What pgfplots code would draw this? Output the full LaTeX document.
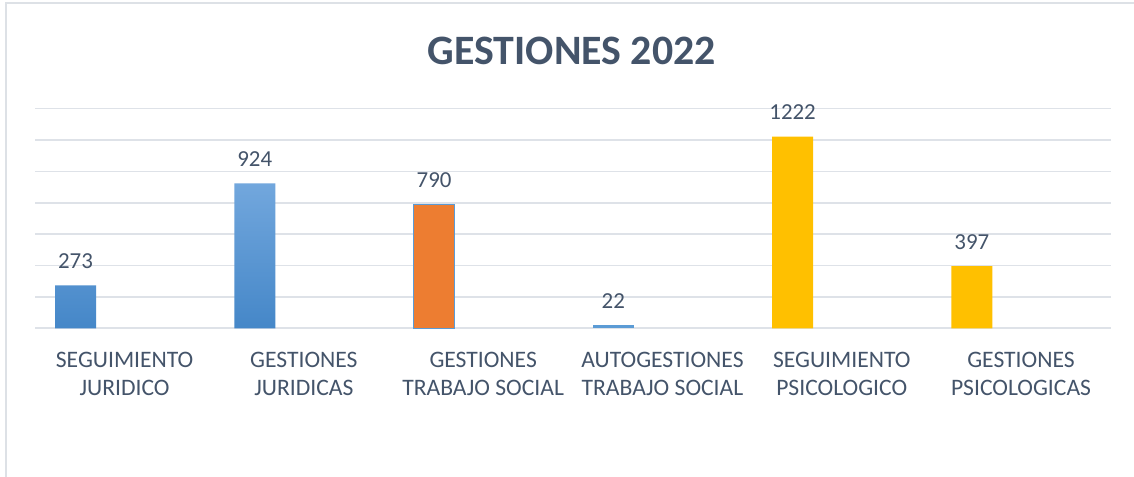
\documentclass[border=0pt]{standalone}
\usepackage{pgfplots}
\pgfplotsset{compat=1.18}
\usepackage{fontspec}
\setmainfont{Carlito}
\definecolor{txt}{HTML}{44546A}
\definecolor{gridc}{HTML}{DEE2E8}
\definecolor{frame}{HTML}{DDE1E6}
\definecolor{bluetop}{HTML}{72A7DD}
\definecolor{bluebot}{HTML}{4587C8}
\definecolor{orangeb}{HTML}{ED7D31}
\definecolor{blueb}{HTML}{5B9BD5}
\definecolor{goldb}{HTML}{FFC000}
\begin{document}
\begin{tikzpicture}
\useasboundingbox (0,0) rectangle (1134bp,477bp);
\fill[white] (0,0) rectangle (1134bp,477bp);
\draw[frame, line width=2bp] (6bp,0) -- (6bp,474bp) -- (1134bp,474bp);
\node[anchor=base, text=txt, font=\fontsize{42}{50}\selectfont\bfseries] at (571.7bp,412bp) {GESTIONES 2022};
\begin{axis}[
  at={(35bp,148.7bp)}, anchor=south west,
  scale only axis, width=1075.7bp, height=219.6bp,
  xmin=-0.5, xmax=5.5, ymin=0, ymax=1400,
  ytick={0,200,...,1400}, yticklabels={},
  xtick={0,1,2,3,4,5},
  xticklabels={SEGUIMIENTO\\JURIDICO, GESTIONES\\JURIDICAS, GESTIONES\\TRABAJO SOCIAL, AUTOGESTIONES\\TRABAJO SOCIAL, SEGUIMIENTO\\PSICOLOGICO, GESTIONES\\PSICOLOGICAS},
  xticklabel style={align=center, anchor=north, inner sep=0pt, yshift=-23.4bp, text=txt, font=\fontsize{23.7}{28}\selectfont},
  ymajorgrids, grid style={gridc, line width=1.6bp},
  axis line style={draw=none}, major tick length=0pt,
  ybar, bar width=0.2287, bar shift=-0.274,
  nodes near coords,
  /pgf/number format/assume math mode=true,
  /pgf/number format/1000 sep={},
  every node near coord/.append style={anchor=base, inner sep=0pt, yshift=16.7bp, text=txt, font=\fontsize{23}{28}\selectfont},
  clip=false,
]
\addplot[draw=none, top color=bluetop, bottom color=bluebot] coordinates {(0,273) (1,924)};
\addplot[draw=blueb, line width=1bp, fill=orangeb] coordinates {(2,790)};
\addplot[draw=none, fill=blueb] coordinates {(3,22)};
\addplot[draw=none, fill=goldb] coordinates {(4,1222) (5,397)};
\end{axis}
\end{tikzpicture}
\end{document}
